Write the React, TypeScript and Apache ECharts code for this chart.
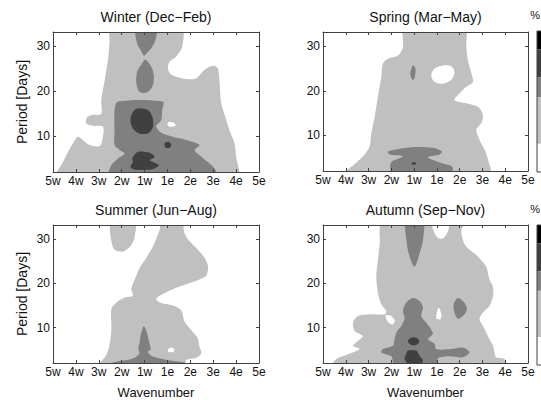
import React, { useEffect, useRef } from "react";
import * as echarts from "echarts";

// ---------- data ----------
const xTickLabels = ["5w", "4w", "3w", "2w", "1w", "1e", "2e", "3e", "4e", "5e"];
const yTickValues = [10, 20, 30];
const panelTitles = ["Winter (Dec\u2212Feb)", "Spring (Mar\u2212May)", "Summer (Jun\u2212Aug)", "Autumn (Sep\u2212Nov)"];
// contour level colours: 0 = below lowest level (white) ... 4 = highest (black)
const levelColors = ["#ffffff", "#c0c0c0", "#808080", "#404040", "#000000"];
const colorbarLevels = [4, 3, 2, 1, 0];

// contour regions: points are [wavenumber index (0 = 5w ... 9 = 5e), period in days]
const winterL1 = [[0.2, 1.5], [0.44, 4.25], [0.66, 6.5], [0.87, 8.4], [1.09, 9.85], [1.31, 9.1], [1.6, 8.0], [2.04, 7.8], [2.18, 9.85], [2.18, 12.1], [1.75, 12.3], [1.46, 12.8], [1.46, 13.95], [1.67, 14.7], [2.1, 14.9], [2.11, 18.1], [2.26, 22.5], [2.4, 27], [2.47, 30.7], [2.55, 34], [5.6, 34], [5.65, 30], [5.39, 27.8], [5.1, 26.6], [5.02, 25.1], [5.17, 23.7], [5.82, 22.7], [6.26, 22.9], [6.62, 24.8], [6.99, 25.7], [7.2, 25.1], [7.28, 21.8], [7.35, 17.3], [7.57, 13.6], [7.71, 11.3], [7.93, 8.4], [8.0, 5.4], [8.05, 1.5]];
const winterHole = [[5.0, 12.6], [5.05, 13.1], [5.3, 12.9], [5.35, 12.3], [5.1, 12.1]];
const winterL2a = [[3.64, 34], [4.51, 34], [4.48, 31.5], [4.29, 29.6], [4.08, 28.4], [3.97, 27.9], [3.86, 28.9], [3.67, 30.7]];
const winterL2b = [[4.03, 27.0], [4.29, 25.5], [4.41, 23.3], [4.34, 21.0], [4.08, 19.7], [3.78, 19.9], [3.64, 21.8], [3.68, 24.4], [3.86, 25.9]];
const winterL2c = [[2.84, 17.7], [4.8, 17.7], [4.77, 15.8], [4.73, 13.6], [4.51, 12.1], [4.8, 10.6], [5.53, 9.5], [6.11, 8.7], [6.4, 8.0], [6.19, 6.9], [6.48, 5.4], [6.84, 3.9], [7.06, 2.8], [7.13, 1.5], [2.47, 1.5], [2.55, 3.5], [2.84, 5.0], [3.13, 6.1], [2.91, 6.9], [2.69, 8.0], [2.69, 11.3], [2.69, 15.8]];
const winterL3a = [[3.71, 16.2], [4.15, 15.8], [4.34, 14.3], [4.37, 12.1], [4.15, 10.6], [3.78, 10.6], [3.49, 11.7], [3.38, 13.6], [3.49, 15.4]];
const winterL3b = [[4.9, 8.6], [5.1, 8.6], [5.17, 8.0], [5.1, 7.4], [4.92, 7.4], [4.87, 8.0]];
const winterL3c = [[3.71, 6.5], [4.22, 6.3], [4.44, 5.4], [4.22, 4.6], [4.37, 4.25], [4.63, 3.5], [4.44, 2.8], [4.15, 2.5], [3.57, 2.5], [3.38, 3.1], [3.49, 4.25], [3.46, 5.0]];

const springL1 = [[1.0, 1.5], [1.46, 3.85], [1.83, 5.7], [2.05, 7.6], [2.12, 10.5], [2.27, 14.2], [2.41, 18.7], [2.56, 23.1], [2.63, 26.1], [2.85, 27.2], [3.29, 27.9], [3.51, 29.8], [3.58, 34], [6.21, 34], [6.29, 29.8], [6.36, 26.8], [6.5, 24.2], [6.58, 22], [6.29, 20.9], [5.99, 19.4], [5.77, 17.9], [6.29, 17.2], [6.8, 16.4], [7.02, 14.6], [6.95, 12.7], [6.73, 11.3], [6.87, 9.0], [7.09, 6.8], [7.24, 4.6], [7.31, 1.5]];
const springHole = [[4.75, 23.5], [4.9, 25], [5.26, 25.7], [5.63, 25.5], [5.77, 24.2], [5.63, 22.4], [5.26, 21.6], [4.9, 22]];
const springL2a = [[3.95, 25.7], [4.06, 25], [4.01, 22.7], [3.92, 22.5], [3.83, 23.9]];
const springL2b = [[2.85, 6.4], [2.92, 5.7], [3.51, 5.3], [3.0, 4.0], [2.95, 2.7], [3.07, 1.5], [5.63, 1.5], [5.67, 3.0], [5.26, 3.7], [4.6, 5.1], [5.12, 5.7], [5.22, 6.4], [4.82, 7.2], [3.8, 7.3]];
const springL3 = [[3.93, 3.95], [4.05, 3.95], [4.08, 3.7], [4.05, 3.45], [3.93, 3.45], [3.9, 3.7]];

const summerL1a = [[2.55, 34], [3.57, 34], [3.57, 30.6], [3.42, 28.7], [3.06, 27.2], [2.69, 27.6], [2.55, 29.5]];
const summerL1b = [[2.04, 1.5], [2.33, 3.8], [2.47, 6.1], [2.55, 9.8], [2.55, 14.2], [2.77, 15.7], [3.13, 16.8], [3.49, 17.2], [3.42, 18.7], [3.57, 20.9], [3.78, 23.5], [4.08, 25.8], [4.37, 28.4], [4.66, 32.1], [4.73, 34], [5.6, 34], [5.75, 31.3], [5.97, 29.5], [6.33, 27.6], [6.62, 25.8], [6.77, 23.9], [6.7, 21.7], [6.4, 20.9], [5.82, 19.8], [5.24, 18.7], [4.8, 17.6], [4.51, 16.5], [4.66, 15.7], [5.24, 15.0], [5.6, 13.9], [5.75, 11.3], [6.11, 9.0], [6.33, 7.5], [6.4, 5.7], [6.48, 4.2], [6.26, 3.2], [5.82, 2.7], [5.75, 1.5]];
const summerHole = [[5.02, 5.0], [5.15, 5.5], [5.31, 5.1], [5.25, 4.5], [5.05, 4.5]];
const summerL2 = [[3.97, 10.3], [4.1, 8.9], [4.2, 6.7], [4.27, 5.1], [4.14, 4.5], [4.4, 3.4], [5.2, 2.5], [5.75, 2.1], [5.75, 1.5], [2.6, 1.5], [2.6, 2.1], [3.5, 3.0], [3.78, 4.2], [3.73, 5.0], [3.78, 6.7], [3.85, 8.7]];

const autumnL1 = [[2.63, 34], [2.49, 28.9], [2.41, 25.3], [2.34, 21.6], [2.41, 17.8], [2.56, 15.2], [2.78, 13.7], [2.7, 13.0], [2.19, 13.0], [1.54, 12.6], [1.32, 11.1], [1.39, 9.25], [1.75, 8.1], [1.54, 7.0], [1.32, 5.9], [1.61, 5.15], [1.02, 3.8], [0.58, 2.9], [0.44, 1.5], [8.04, 1.5], [7.97, 2.9], [7.6, 3.3], [7.53, 4.4], [7.46, 5.9], [7.31, 7.4], [7.16, 8.9], [7.02, 10.4], [6.87, 11.9], [7.02, 13.4], [7.31, 14.9], [7.46, 17.1], [7.46, 19.3], [7.31, 20.8], [7.16, 23.8], [6.73, 26.4], [6.29, 28.3], [6.14, 29.8], [6.07, 32.0], [6.21, 34]];
const autumnHoleTop = [[4.8, 34], [4.9, 31.3], [5.12, 30.1], [5.34, 30.5], [5.5, 32], [5.5, 34]];
const autumnHoleA = [[2.75, 12.8], [3.0, 12.6], [3.15, 11.5], [3.05, 10.7], [2.85, 11.3]];
const autumnHoleB = [[4.97, 12.1], [5.0, 13.5], [5.08, 14.5], [5.2, 13.0], [5.15, 11.9]];
const autumnL2a = [[3.65, 34], [4.39, 34], [4.39, 29.8], [4.24, 26.8], [4.02, 23.8], [3.8, 26.1], [3.68, 29.0]];
const autumnL2b = [[5.92, 16.7], [6.21, 15.6], [6.32, 14.1], [6.14, 12.6], [5.92, 12.0], [5.77, 13.4], [5.73, 15.2]];
const autumnL2c = [[3.95, 16.7], [4.24, 16.0], [4.39, 14.5], [4.31, 12.6], [4.53, 11.1], [4.75, 9.6], [4.82, 8.5], [4.61, 7.4], [4.9, 6.3], [4.97, 5.15], [5.63, 5.15], [6.14, 5.5], [6.43, 4.4], [6.14, 3.3], [5.56, 3.5], [5.04, 3.05], [5.04, 1.5], [3.14, 1.5], [3.0, 3.5], [2.56, 4.4], [2.63, 5.15], [3.07, 5.9], [3.14, 7.4], [3.22, 8.9], [3.44, 10.4], [3.58, 12.2], [3.51, 13.7], [3.65, 15.6]];
const autumnL3a = [[3.98, 7.8], [4.16, 7.5], [4.23, 6.9], [4.16, 6.3], [3.98, 6.0], [3.8, 6.3], [3.73, 6.9], [3.8, 7.5]];
const autumnL3b = [[3.73, 4.8], [4.09, 4.8], [4.24, 3.65], [4.39, 2.5], [4.2, 1.5], [3.8, 1.5], [3.58, 2.9], [3.65, 4.0]];

type Region = { level: number; pts: number[][] };
const panels: Region[][] = [
  [
    { level: 1, pts: winterL1 }, { level: 0, pts: winterHole },
    { level: 2, pts: winterL2a }, { level: 2, pts: winterL2b }, { level: 2, pts: winterL2c },
    { level: 3, pts: winterL3a }, { level: 3, pts: winterL3b }, { level: 3, pts: winterL3c },
  ],
  [
    { level: 1, pts: springL1 }, { level: 0, pts: springHole },
    { level: 2, pts: springL2a }, { level: 2, pts: springL2b }, { level: 3, pts: springL3 },
  ],
  [
    { level: 1, pts: summerL1a }, { level: 1, pts: summerL1b }, { level: 0, pts: summerHole },
    { level: 2, pts: summerL2 },
  ],
  [
    { level: 1, pts: autumnL1 }, { level: 0, pts: autumnHoleTop }, { level: 0, pts: autumnHoleA }, { level: 0, pts: autumnHoleB },
    { level: 2, pts: autumnL2a }, { level: 2, pts: autumnL2b }, { level: 2, pts: autumnL2c },
    { level: 3, pts: autumnL3a }, { level: 3, pts: autumnL3b },
  ],
];

// ---------- layout ----------
const FONT = "'Liberation Sans', Arial, Helvetica, sans-serif";
const AXIS_COLOR = "#404040";
const grids = [
  { left: 53, top: 32, width: 206, height: 140 },
  { left: 323, top: 32, width: 205, height: 139 },
  { left: 53, top: 225, width: 206, height: 139 },
  { left: 323, top: 225, width: 205, height: 139 },
];
const colorbars = [
  { x: 537, y: 31, h: 141 },
  { x: 537, y: 225, h: 140 },
];
const colorbarFractions = [0, 0.13, 0.33, 0.47, 0.8, 1];

function buildOption() {
  const xAxes: any[] = [];
  const yAxes: any[] = [];
  const series: any[] = [];
  const graphics: any[] = [];

  grids.forEach((g, gi) => {
    const bottomRow = gi >= 2;
    const leftCol = gi % 2 === 0;
    const base = {
      gridIndex: gi,
      type: "value",
      z: 5,
      splitLine: { show: false },
      axisLine: { show: true, onZero: false, lineStyle: { color: AXIS_COLOR, width: 1 } },
      axisTick: { show: true, inside: true, length: 3, lineStyle: { color: AXIS_COLOR } },
    };
    xAxes.push({
      ...base,
      position: "bottom",
      min: 0,
      max: 9,
      interval: 1,
      axisLabel: {
        show: true,
        margin: 3,
        fontSize: 12,
        fontFamily: FONT,
        color: "#111",
        formatter: (v: number) => xTickLabels[Math.round(v)] ?? "",
      },
      name: bottomRow ? "Wavenumber" : "",
      nameLocation: "middle",
      nameGap: 23,
      nameTextStyle: { fontSize: 13, fontFamily: FONT, color: "#111" },
    });
    xAxes.push({ ...base, position: "top", min: 0, max: 9, interval: 1, axisLabel: { show: false } });
    yAxes.push({
      ...base,
      position: "left",
      min: 2,
      max: 33.2,
      axisTick: { ...base.axisTick, customValues: yTickValues },
      axisLabel: {
        show: true,
        margin: 3,
        fontSize: 12,
        fontFamily: FONT,
        color: "#111",
        customValues: yTickValues,
      },
      name: leftCol ? "Period [Days]" : "",
      nameLocation: "middle",
      nameRotate: 90,
      nameGap: 24,
      nameTextStyle: { fontSize: 14, fontFamily: FONT, color: "#111" },
    });
    yAxes.push({
      ...base,
      position: "right",
      min: 2,
      max: 33.2,
      axisTick: { ...base.axisTick, customValues: yTickValues },
      axisLabel: { show: false, customValues: yTickValues },
    });

    const regions = panels[gi];
    series.push({
      type: "custom",
      xAxisIndex: gi * 2,
      yAxisIndex: gi * 2,
      clip: true,
      silent: true,
      data: regions.map((r, k) => [r.pts[0][0], r.pts[0][1], k]),
      encode: { x: 0, y: 1 },
      renderItem: (params: any, api: any) => {
        const r = regions[params.dataIndex];
        return {
          type: "polygon",
          shape: { points: r.pts.map((p) => api.coord(p)), smooth: 0.3 },
          style: { fill: levelColors[r.level], stroke: null },
        };
      },
    });

    graphics.push({
      type: "text",
      x: g.left + g.width / 2,
      y: g.top - 15,
      style: {
        text: panelTitles[gi],
        textAlign: "center",
        textVerticalAlign: "middle",
        fontSize: 14,
        fontFamily: FONT,
        fill: "#111",
      },
    });
  });

  colorbars.forEach((cb) => {
    colorbarLevels.forEach((lv, k) => {
      const y0 = cb.y + cb.h * colorbarFractions[k];
      const y1 = cb.y + cb.h * colorbarFractions[k + 1];
      graphics.push({
        type: "rect",
        shape: { x: cb.x, y: y0, width: 10, height: y1 - y0 },
        style: { fill: levelColors[lv] },
      });
    });
    graphics.push({
      type: "rect",
      shape: { x: cb.x, y: cb.y, width: 10, height: cb.h },
      style: { fill: "none", stroke: AXIS_COLOR, lineWidth: 1 },
    });
    graphics.push({
      type: "text",
      x: 540,
      y: cb.y - 16,
      style: { text: "%", textAlign: "right", textVerticalAlign: "middle", fontSize: 11, fontFamily: FONT, fill: "#111" },
    });
  });

  return {
    animation: false,
    backgroundColor: "#ffffff",
    grid: grids.map((g) => ({ ...g, containLabel: false })),
    xAxis: xAxes,
    yAxis: yAxes,
    series,
    graphic: graphics,
  };
}

export default function App() {
  const ref = useRef<HTMLDivElement>(null);
  useEffect(() => {
    if (!ref.current) return;
    const chart = echarts.init(ref.current, undefined, { renderer: "svg" });
    chart.setOption(buildOption() as any);
    return () => chart.dispose();
  }, []);
  return (
    <div
      ref={ref}
      style={{ position: "absolute", left: 0, top: 0, width: 541, height: 400, background: "#fff" }}
    />
  );
}
